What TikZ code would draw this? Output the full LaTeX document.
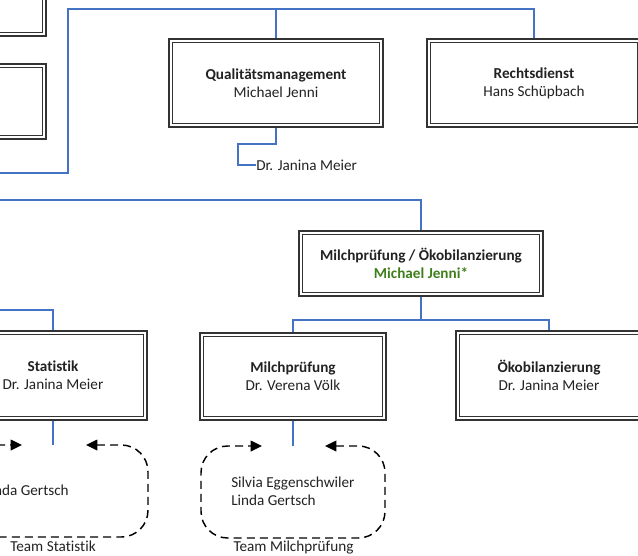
\documentclass[tikz,border=0pt]{standalone}
\usepackage{fontspec}
\setmainfont{Carlito}[Ligatures=NoCommon]
\usetikzlibrary{arrows.meta,calc}
\definecolor{boxc}{HTML}{333333}
\definecolor{linkblue}{HTML}{4472C4}
\definecolor{txt}{HTML}{222222}
\definecolor{grn}{HTML}{3F7F1A}
\tikzset{
  orgbox/.style={draw=boxc, line width=1.5pt, fill=white, inner sep=0pt, align=center, text=txt,
    font=\fontsize{11.4}{13.4}\selectfont,
    path picture={\draw[boxc,line width=0.7pt]
      ([shift={(2.6pt,2.6pt)}]path picture bounding box.south west) rectangle
      ([shift={(-2.6pt,-2.6pt)}]path picture bounding box.north east);}},
  bw/.style={minimum width=#1*0.75pt},
  bh/.style={minimum height=#1*0.75pt},
  conn/.style={draw=linkblue, line width=0.9pt},
  team/.style={draw=black, line width=1.1pt, dash pattern=on 6pt off 3.8pt, rounded corners=20pt,
    {Triangle[length=8.5pt,width=8pt]}-{Triangle[length=8.5pt,width=8pt]}},
  lbl/.style={text=txt, font=\fontsize{11.4}{13.4}\selectfont, inner sep=0pt, align=left},
}
\begin{document}
\begin{tikzpicture}[x=0.75pt,y=-0.75pt]
\useasboundingbox (0,0) rectangle (638,556);
\clip (0,0) rectangle (638,556);
% boxes (centre, size in px)
\node[orgbox, bw=195, bh=95] (tl1) at (-51.5,-11.5) {};
\node[orgbox, bw=195, bh=75] (tl2) at (-51.5,101.5) {};
\node[orgbox, bw=214, bh=88] (qm) at (276,83) {\textbf{Qualitätsmanagement}\\Michael Jenni};
\node[orgbox, bw=214, bh=88] (rd) at (534,83) {\textbf{Rechtsdienst}\\Hans Schüpbach};
\node[orgbox, bw=244, bh=65] (mo) at (421,263.5) {\textbf{Milchprüfung / Ökobilanzierung}\\\textcolor{grn}{\textbf{Michael Jenni*}}};
\node[orgbox, bw=188, bh=89] (st) at (53,375.5) {\textbf{Statistik}\\Dr. Janina Meier};
\node[orgbox, bw=186, bh=87] (mp) at (293,376.5) {\textbf{Milchprüfung}\\Dr. Verena Völk};
\node[orgbox, bw=186, bh=89] (ok) at (549,375.5) {\textbf{Ökobilanzierung}\\Dr. Janina Meier};
% labels
\node[lbl, anchor=west] (jm) at (256,165) {Dr. Janina Meier};
\node[lbl, anchor=west] (mpm) at (231,491) {Silvia Eggenschwiler\\Linda Gertsch};
\node[lbl, anchor=west] (stm) at (-16,490) {Linda Gertsch};
\node[lbl] (mpl) at (293.5,548) {Team Milchprüfung};
\node[lbl] (stl) at (53,546) {Team Statistik};
% coordinates
\coordinate (offA) at (-5,173);
\coordinate (busTop) at (68,9);
\coordinate (offB) at (-5,200);
\coordinate (offC) at (-5,310);
\coordinate (mobus) at (421,320);
\coordinate (qmk1) at (238,144);
\coordinate (stt) at (53,445);
\coordinate (mpt) at (293,446);
% connectors
\draw[conn] (offA) -| (busTop) -| (qm.north);
\draw[conn] (busTop) -| (rd.north);
\draw[conn] (qm.south) |- (qmk1) |- (jm.west);
\draw[conn] (offB) -| (mo.north);
\draw[conn] (offC) -| (st.north);
\draw[conn] (mo.south) -- (mobus);
\draw[conn] (mobus) -| (mp.north);
\draw[conn] (mobus) -| (ok.north);
\draw[conn] (st.south) -- (stt);
\draw[conn] (mp.south) -- (mpt);
% team shapes
\draw[team] ($(mpt)+(32,0)$) -- ($(mpt)+(92,0)$) -- ($(mpt)+(92,92)$) -- ($(mpt)+(-92,92)$) -- ($(mpt)+(-92,0)$) -- ($(mpt)+(-31,0)$);
\draw[team] ($(stt)+(33,0)$) -- ($(stt)+(95,0)$) -- ($(stt)+(95,92)$) -- ($(stt)+(-95,92)$) -- ($(stt)+(-95,0)$) -- ($(stt)+(-31,0)$);
\end{tikzpicture}
\end{document}
